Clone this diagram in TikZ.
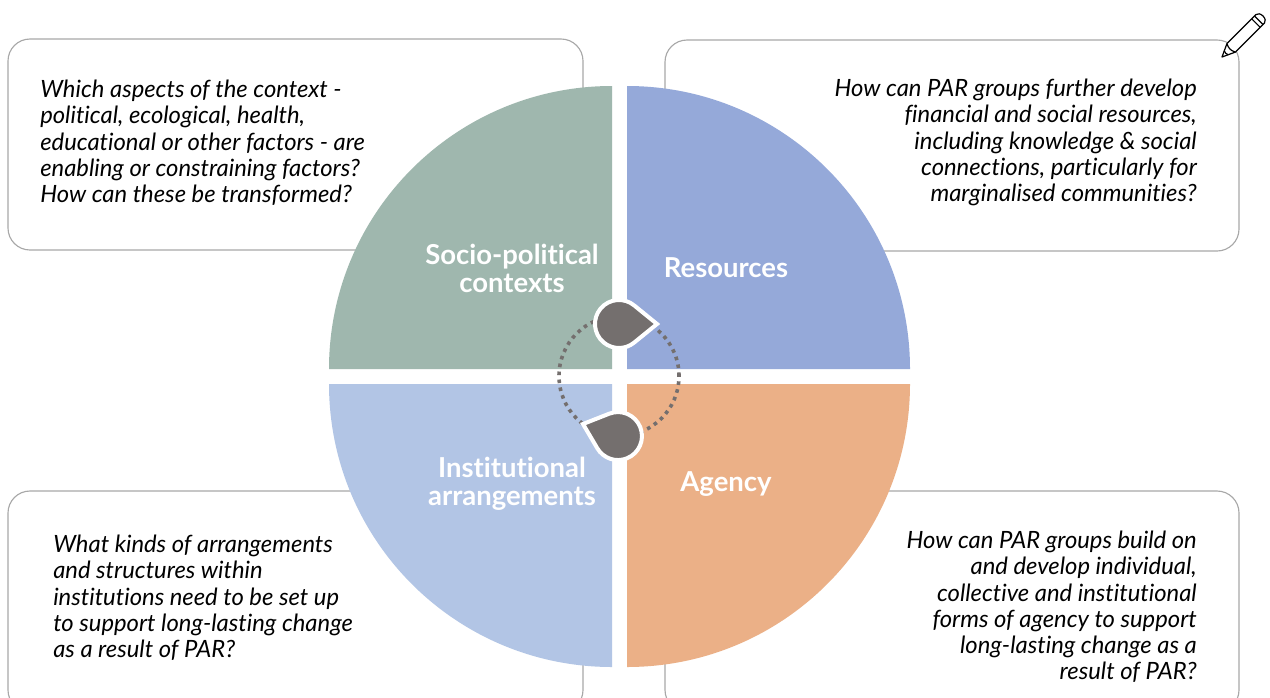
\documentclass[tikz,border=0pt]{standalone}
\usepackage{fontspec}
\setmainfont[Ligatures=NoCommon]{Lato}
\definecolor{qsage}{HTML}{9FB7AE}
\definecolor{qblue}{HTML}{95A9D9}
\definecolor{qpale}{HTML}{B2C5E5}
\definecolor{qorange}{HTML}{EBB087}
\definecolor{qdrop}{HTML}{746F6E}
\definecolor{qline}{HTML}{A8A8A8}
\tikzset{
  x=0.75pt,y=-0.75pt,
  boxframe/.style={draw=qline,line width=0.85pt,rounded corners=16.5pt,fill=white},
  question/.style={inner sep=0pt,font=\fontsize{17.85}{19.6}\selectfont\itshape},
  qleft/.style={question,align=left,anchor=north west},
  qright/.style={question,align=right,anchor=north east},
  heading/.style={inner sep=0pt,align=center,text=white,font=\fontsize{20.6}{21}\selectfont\bfseries},
  dropshape/.style={fill=qdrop,draw=white,line width=3pt,line join=miter},
  ring/.style={draw=qdrop,line width=2.7pt,dash pattern=on 2.7pt off 3.3pt},
  pencil/.style={draw=black,line width=0.9pt,fill=white,line join=round}
}
\begin{document}
\begin{tikzpicture}
\useasboundingbox (0,0) rectangle (1270,697);
\clip (0,0) rectangle (1270,697);
\fill[white] (0,0) rectangle (1270,697);
% boxes
\draw[boxframe] (8,39) rectangle (583,250);
\draw[boxframe] (665,40) rectangle (1239,251);
\draw[boxframe] (8,491) rectangle (583,712);
\draw[boxframe] (665,491) rectangle (1239,712);
% quadrants
\fill[qsage] (612,369) -- (329,369) arc[start angle=180,end angle=90,radius=212.25pt] -- cycle;
\fill[qblue] (627,369) -- (627,86) arc[start angle=90,end angle=0,radius=212.25pt] -- cycle;
\fill[qpale] (612,384) -- (612,667) arc[start angle=270,end angle=180,radius=212.25pt] -- cycle;
\fill[qorange] (627,384) -- (910,384) arc[start angle=360,end angle=270,radius=212.25pt] -- cycle;
% ring
\coordinate (ringc) at (619,376);
\draw[ring] (ringc) circle[radius=45pt];
% drops
\draw[dropshape] (657,324) -- ++(-22.6,-18.4) arc[start angle=50,end angle=310,radius=18pt] -- cycle;
\draw[dropshape] (583,424) -- ++(26.2,-10.3) arc[start angle=111.4,end angle=-149.4,radius=18pt] -- cycle;
% pencil
\begin{scope}[shift={(1222,57)},rotate=45,x=0.75pt,y=0.75pt]
  \draw[pencil] (0,0) -- (13,-6) -- (54,-6) arc[start angle=-90,end angle=90,x radius=3pt,y radius=4.5pt] -- (13,6) -- cycle;
  \draw[pencil] (13,-6) to[bend left=30] (13,6);
  \draw[pencil] (6,-3) to[bend left=25] (6,3);
  \draw[pencil] (48,-6) -- (48,6);
  \draw[pencil] (52,-6) -- (52,6);
\end{scope}
% headings
\node[heading] (socio) at (512,268) {Socio-political\\contexts};
\node[heading] (res) at (726,268) {Resources};
\node[heading] (inst) at (512,484) {Institutional\\arrangements};
\node[heading] (agency) at (726,484) {Agency};
% questions
\node[qleft] (q1) at (40,80) {Which aspects of the context -\\political, ecological, health,\\educational or other factors - are\\enabling or constraining factors?\\How can these be transformed?};
\node[qright] (q2) at (1197,79) {How can PAR groups further develop\\financial and social resources,\\including knowledge \& social\\connections, particularly for\\marginalised communities?};
\node[qleft] (q3) at (53,535) {What kinds of arrangements\\and structures within\\institutions need to be set up\\to support long-lasting change\\as a result of PAR?};
\node[qright] (q4) at (1197,531) {How can PAR groups build on\\and develop individual,\\collective and institutional\\forms of agency to support\\long-lasting change as a\\result of PAR?};
\end{tikzpicture}
\end{document}
